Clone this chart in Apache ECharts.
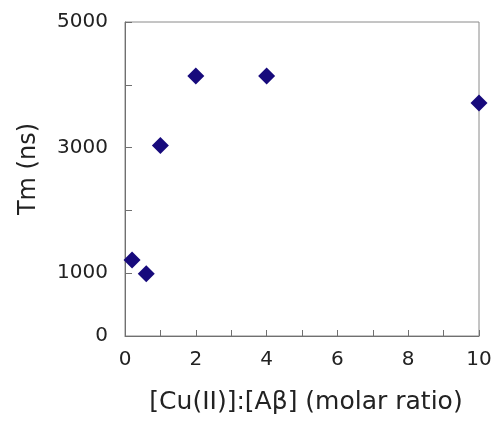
<!DOCTYPE html>
<html>
<head>
<meta charset="utf-8">
<script src="https://cdn.jsdelivr.net/npm/echarts@6/dist/echarts.min.js"></script>
<style>
  html, body { margin: 0; padding: 0; background: #fff; }
  #chart { width: 498px; height: 423px; }
</style>
</head>
<body>
<div id="chart"></div>
<script>
// molar ratio [Cu(II)]:[Aβ]
const ratios = [0.2, 0.6, 1, 2, 4, 10];
// Tm (ns)
const tmValues = [1210, 990, 3035, 4140, 4140, 3710];
// labels shown on the y axis (others are tick only)
const yLabels = [0, 1000, 3000, 5000];
const xLabels = [0, 2, 4, 6, 8, 10];

const fontFamily = "'DejaVu Sans', sans-serif";

const myChart = echarts.init(document.getElementById("chart"));

const options = {
  animation: false,
  grid: {
    left: 125,
    right: 19,
    top: 22,
    bottom: 87,
    show: true,
    borderColor: "#8a8a8a",
    borderWidth: 1,
  },
  xAxis: {
    type: "value",
    min: 0,
    max: 10,
    interval: 1,
    name: "[Cu(II)]:[Aβ] (molar ratio)",
    nameLocation: "middle",
    nameGap: 54,
    nameTextStyle: { fontSize: 25, color: "#222", fontFamily: fontFamily, padding: [0, 0, 0, 8] },
    splitLine: { show: false },
    axisLine: { lineStyle: { color: "#707070", width: 1 } },
    axisTick: { inside: true, length: 6, lineStyle: { color: "#707070" } },
    axisLabel: {
      margin: 14,
      fontSize: 20,
      color: "#222",
      fontFamily: fontFamily,
      formatter: (v) => (xLabels.includes(v) ? String(v) : ""),
    },
  },
  yAxis: {
    type: "value",
    min: 0,
    max: 5000,
    interval: 1000,
    name: "Tm (ns)",
    nameLocation: "middle",
    nameGap: 84,
    nameTextStyle: { fontSize: 24, color: "#222", fontFamily: fontFamily, padding: [0, 0, 0, 20] },
    splitLine: { show: false },
    axisLine: { show: true, lineStyle: { color: "#707070", width: 1 } },
    axisTick: { show: true, inside: true, length: 7, lineStyle: { color: "#707070" } },
    axisLabel: {
      margin: 17,
      fontSize: 20,
      color: "#222",
      fontFamily: fontFamily,
      formatter: (v) => (yLabels.includes(v) ? String(v) : ""),
    },
  },
  series: [
    {
      type: "scatter",
      symbol: "diamond",
      symbolSize: 17,
      itemStyle: { color: "#170a7c", opacity: 1 },
      data: ratios.map((x, i) => [x, tmValues[i]]),
      clip: false,
    },
  ],
};
myChart.setOption(options);
</script>
</body>
</html>
